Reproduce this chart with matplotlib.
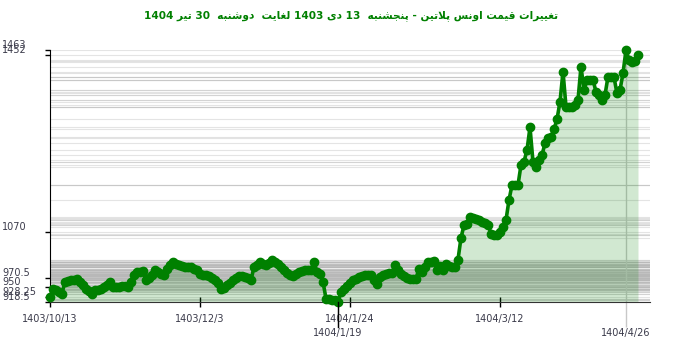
import matplotlib
matplotlib.use("Agg")
import matplotlib.pyplot as plt
from matplotlib.transforms import ScaledTranslation

# price of one ounce of platinum, one value per day shown on the chart
prices = [
    928.25, 947.5, 944.3, 941.0, 936.7, 962.6, 964.8, 965.4, 966.9, 967.6,
    962.6, 956.2, 947.5, 943.2, 936.7, 943.8, 945.3, 947.5, 951.8, 954.6,
    962.0, 951.8, 951.8, 951.8, 952.9, 954.0, 951.8, 962.0, 976.3, 983.6,
    984.2, 984.9, 965.4, 971.3, 976.3, 987.1, 984.2, 979.9, 976.3, 990.7,
    999.4, 1005.2, 1001.5, 997.9, 997.2, 995.1, 994.4, 994.4, 990.7, 987.1,
    979.9, 976.3, 976.3, 975.6, 971.3, 967.0, 960.5, 946.0, 949.7, 954.6,
    960.5, 965.4, 971.3, 975.0, 974.5, 972.4, 970.6, 965.4, 994.4, 999.4,
    1005.2, 1001.5, 999.4, 1003.7, 1008.7, 1005.9, 1001.5, 995.1, 987.1, 982.1,
    977.8, 975.0, 979.9, 983.6, 985.3, 987.1, 987.1, 987.1, 1005.2, 983.6,
    979.9, 962.0, 925.9, 924.4, 923.7, 922.2, 918.5, 940.4, 947.5, 954.0,
    960.5, 965.4, 969.1, 972.8, 975.6, 977.8, 977.1, 976.3, 967.0, 958.3,
    972.8, 976.7, 979.9, 981.0, 982.1, 997.9, 988.6, 979.9, 975.6, 970.6,
    969.1, 969.1, 969.1, 990.7, 983.6, 995.1, 1005.2, 1005.9, 1006.5, 987.1,
    997.2, 987.5, 1001.5, 997.2, 994.4, 994.4, 1010.2, 1057.1, 1084.3, 1088.0,
    1102.5, 1101.0, 1098.8, 1095.6, 1091.7, 1089.1, 1085.9, 1066.4, 1063.2, 1064.3,
    1070.0, 1081.2, 1095.6, 1138.8, 1171.3, 1171.3, 1171.3, 1214.5, 1221.6, 1246.9,
    1295.9, 1221.0, 1210.8, 1225.3, 1236.1, 1261.4, 1272.2, 1275.6, 1291.6, 1313.2,
    1351.3, 1416.1, 1340.5, 1339.2, 1340.9, 1344.1, 1354.9, 1426.9, 1376.6, 1398.2,
    1398.2, 1398.2, 1372.9, 1365.8, 1354.9, 1365.8, 1405.3, 1404.7, 1404.0, 1369.4,
    1376.6, 1412.6, 1463.0, 1441.4, 1437.7, 1440.3, 1452.0,
]

date_ticks = [0, 50, 100, 150]
date_labels = ["1403/10/13", "1403/12/3", "1404/1/24", "1404/3/12"]
mark_ticks = [96, 192]
mark_labels = ["1404/1/19", "1404/4/26"]

value_ticks = [918.5, 928.25, 950, 970.5, 1070, 1452, 1463]
value_labels = ["918.5", "928.25", "950", "970.5", "1070", "1452", "1463"]

title = "تغییرات قیمت اونس پلاتین - پنجشنبه  13 دی 1403 لغایت  دوشنبه  30 تیر 1404"

# matplotlib does no arabic shaping, so pick the presentation forms by hand
FORMS = {
    "\u0627": ("\uFE8D", "\uFE8E", None, None),
    "\u0628": ("\uFE8F", "\uFE90", "\uFE91", "\uFE92"),
    "\u067E": ("\uFB56", "\uFB57", "\uFB58", "\uFB59"),
    "\u062A": ("\uFE95", "\uFE96", "\uFE97", "\uFE98"),
    "\u062C": ("\uFE9D", "\uFE9E", "\uFE9F", "\uFEA0"),
    "\u062F": ("\uFEA9", "\uFEAA", None, None),
    "\u0631": ("\uFEAD", "\uFEAE", None, None),
    "\u0633": ("\uFEB1", "\uFEB2", "\uFEB3", "\uFEB4"),
    "\u0634": ("\uFEB5", "\uFEB6", "\uFEB7", "\uFEB8"),
    "\u063A": ("\uFECD", "\uFECE", "\uFECF", "\uFED0"),
    "\u0642": ("\uFED5", "\uFED6", "\uFED7", "\uFED8"),
    "\u0644": ("\uFEDD", "\uFEDE", "\uFEDF", "\uFEE0"),
    "\u0645": ("\uFEE1", "\uFEE2", "\uFEE3", "\uFEE4"),
    "\u0646": ("\uFEE5", "\uFEE6", "\uFEE7", "\uFEE8"),
    "\u0647": ("\uFEE9", "\uFEEA", "\uFEEB", "\uFEEC"),
    "\u0648": ("\uFEED", "\uFEEE", None, None),
    "\u06CC": ("\uFBFC", "\uFBFD", "\uFBFE", "\uFBFF"),
}


def joins_forward(c):
    return c in FORMS and FORMS[c][2] is not None


def shape(word):
    out = []
    i = 0
    while i < len(word):
        c = word[i]
        if c not in FORMS:
            out.append(c)
            i += 1
            continue
        prev_j = i > 0 and joins_forward(word[i - 1])
        if c == "\u0644" and i + 1 < len(word) and word[i + 1] == "\u0627":
            out.append("\uFEFC" if prev_j else "\uFEFB")
            i += 2
            continue
        next_j = joins_forward(c) and i + 1 < len(word) and word[i + 1] in FORMS
        iso, fin, ini, med = FORMS[c]
        if prev_j and next_j:
            out.append(med)
        elif prev_j:
            out.append(fin)
        elif next_j:
            out.append(ini)
        else:
            out.append(iso)
        i += 1
    return "".join(out)


def rtl(text):
    text = text.replace("\u064A", "\u06CC")
    words = []
    for w in text.split(" "):
        if any(ch in FORMS for ch in w):
            words.append(shape(w)[::-1])
        else:
            words.append(w)
    return " ".join(reversed(words))


green = "#008000"
label_color = "#3a3a4a"
mark_gray = "#c8c8c8"

fig = plt.figure(figsize=(7, 3.52), dpi=100)
ax = fig.add_axes([50 / 700, 50 / 352, 600 / 700, 252 / 352])

days = list(range(len(prices)))

# one faint grid line per price, as in the original
for p in prices:
    ax.axhline(p, color="#b8b8b8", lw=0.8, alpha=0.38, zorder=0)

ax.axvline(mark_ticks[1], color=mark_gray, lw=1, zorder=1)

ax.fill_between(days, prices, 918.5, color=green, alpha=0.18, lw=0, zorder=2)
ax.plot(days, prices, color=green, lw=2.6, marker="o", ms=6,
        zorder=3, clip_on=False)

ax.set_xlim(0, 200)
ax.set_ylim(918.5, 1463)

ax.set_xticks(date_ticks)
ax.set_xticklabels(date_labels)
ax.set_xticks(mark_ticks, minor=True)
ax.set_xticklabels(mark_labels, minor=True)
ax.tick_params(axis="x", which="major", direction="inout", length=7.2,
               width=1, pad=5, labelsize=7, labelcolor=label_color)
ax.tick_params(axis="x", which="minor", direction="out", length=18,
               width=1, pad=1, color=mark_gray, labelsize=7,
               labelcolor=label_color)
# the min-date marker is black, the max-date one stays gray
ax.axvline(mark_ticks[0], ymin=-25 / 252, ymax=0, color="black", lw=1,
           clip_on=False, zorder=4)

ax.set_yticks(value_ticks)
ax.set_yticklabels(value_labels)
ax.tick_params(axis="y", direction="out", length=3.6, width=1, pad=31,
               labelsize=7, labelcolor=label_color)
for lab in ax.get_yticklabels():
    lab.set_horizontalalignment("left")
    lab.set_transform(lab.get_transform()
                      + ScaledTranslation(0, 4.5 / 72, fig.dpi_scale_trans))

for side in ["top", "right"]:
    ax.spines[side].set_visible(False)
ax.spines["left"].set_color("black")
ax.spines["bottom"].set_color("#333333")

fig.text(351 / 700, 1 - 16 / 352, rtl(title), ha="center", va="center",
         color=green, fontsize=7.6, fontweight="bold",
         family=["DejaVu Sans"])

fig.savefig("out.png", dpi=100)
